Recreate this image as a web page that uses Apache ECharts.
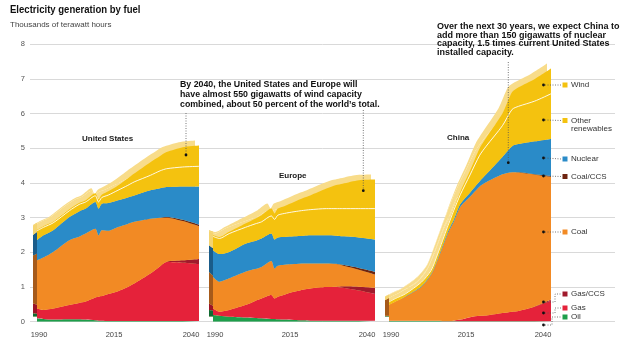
<!DOCTYPE html>
<html><head><meta charset="utf-8">
<script src="https://cdn.jsdelivr.net/npm/echarts@6/dist/echarts.min.js"></script>
<style>html,body{margin:0;padding:0;background:#fff}#c{width:635px;height:358px}</style>
</head><body><div id="c"></div>
<script>
// ---------- data ----------
const years = [1990,1992,1995,2000,2003,2005,2008,2009,2010,2012,2015,2018,2020,2025,2028,2030,2035,2040];
const fuels = ['Oil','Gas','Gas/CCS','Coal','Coal/CCS','Nuclear','Other renewables','Wind'];
const yTicks = [0,1,2,3,4,5,6,7,8];
const xTickLabels = [1990,2015,2040];

// United States
const usOil     = [0.10,0.08,0.06,0.07,0.07,0.06,0.04,0.03,0.03,0.02,0.02,0.02,0.02,0.02,0.02,0.02,0.02,0.02];
const usGas     = [0.28,0.26,0.32,0.41,0.47,0.52,0.66,0.69,0.71,0.78,0.86,0.98,1.08,1.37,1.58,1.70,1.68,1.64];
const usGasCCS  = [0,0,0,0,0,0,0,0,0,0,0,0,0,0,0,0.01,0.07,0.15];
const usCoal    = [1.39,1.51,1.63,1.87,1.91,1.96,1.98,1.77,1.90,1.82,1.85,1.82,1.78,1.58,1.39,1.27,1.13,0.94];
const usCoalCCS = [0,0,0,0,0,0,0,0,0,0,0,0,0,0,0.01,0.02,0.04,0.05];
const usNuclear = [0.58,0.64,0.63,0.67,0.73,0.72,0.77,0.77,0.76,0.80,0.77,0.76,0.76,0.82,0.85,0.86,0.96,1.10];
const usOther   = [0.27,0.23,0.21,0.18,0.20,0.19,0.18,0.19,0.18,0.23,0.29,0.35,0.39,0.43,0.50,0.53,0.56,0.58];
const usWind    = [0.02,0.03,0.03,0.04,0.04,0.05,0.07,0.08,0.08,0.11,0.14,0.20,0.24,0.38,0.43,0.48,0.57,0.60];

// Europe
const euOil     = [0.19,0.17,0.14,0.12,0.11,0.10,0.08,0.08,0.07,0.06,0.05,0.04,0.03,0.03,0.03,0.03,0.03,0.03];
const euGas     = [0.19,0.12,0.20,0.36,0.49,0.57,0.69,0.59,0.65,0.72,0.81,0.89,0.93,0.97,0.97,0.95,0.87,0.77];
const euGasCCS  = [0,0,0,0,0,0,0,0,0,0,0,0,0,0,0.01,0.04,0.11,0.18];
const euCoal    = [0.91,0.86,0.91,0.96,0.92,0.91,0.98,0.86,0.89,0.86,0.80,0.75,0.72,0.68,0.65,0.60,0.49,0.38];
const euCoalCCS = [0,0,0,0,0,0,0,0,0,0,0,0,0,0,0.01,0.02,0.05,0.08];
const euNuclear = [0.77,0.80,0.76,0.81,0.81,0.82,0.79,0.84,0.82,0.80,0.80,0.80,0.81,0.81,0.81,0.82,0.88,0.93];
const euOther   = [0.40,0.45,0.53,0.47,0.49,0.48,0.51,0.58,0.64,0.68,0.71,0.73,0.74,0.77,0.78,0.80,0.83,0.89];
const euWind    = [0.03,0.04,0.05,0.11,0.15,0.19,0.21,0.17,0.19,0.21,0.28,0.36,0.41,0.58,0.68,0.72,0.82,0.84];

// China
const cnOil     = [0.02,0.02,0.02,0.02,0.02,0.02,0.01,0.01,0.01,0.01,0.01,0.01,0.01,0.01,0.01,0.01,0.01,0.01];
const cnGas     = [0.01,0.01,0.01,0.01,0.01,0.01,0.01,0.01,0.02,0.05,0.12,0.16,0.17,0.24,0.28,0.30,0.42,0.60];
const cnGasCCS  = [0,0,0,0,0,0,0,0,0,0,0,0,0,0,0,0,0.01,0.03];
const cnCoal    = [0.45,0.55,0.69,0.97,1.32,1.74,2.48,2.68,2.85,3.25,3.47,3.73,3.84,4.00,4.02,3.99,3.80,3.54];
const cnCoalCCS = [0,0,0,0,0,0,0,0,0,0,0,0,0,0,0,0.01,0.01,0.02];
const cnNuclear = [0,0,0.01,0.02,0.03,0.04,0.05,0.06,0.06,0.08,0.12,0.15,0.23,0.50,0.75,0.81,0.95,1.07];
const cnOther   = [0.09,0.09,0.07,0.12,0.10,0.14,0.17,0.20,0.27,0.27,0.51,0.75,0.81,0.90,1.06,1.09,1.16,1.30];
const cnWind    = [0.01,0.01,0.01,0.01,0.02,0.02,0.03,0.04,0.05,0.08,0.12,0.20,0.24,0.35,0.50,0.55,0.64,0.73];

// ---------- layout / style ----------
const regions = [
  {key:'us', left:37,  layers:[usOil,usGas,usGasCCS,usCoal,usCoalCCS,usNuclear,usOther,usWind]},
  {key:'eu', left:213, layers:[euOil,euGas,euGasCCS,euCoal,euCoalCCS,euNuclear,euOther,euWind]},
  {key:'cn', left:389, layers:[cnOil,cnGas,cnGasCCS,cnCoal,cnCoalCCS,cnNuclear,cnOther,cnWind]}
];
const frontColors = ['#1e9e4b','#e5223a','#a01a2c','#f28a24','#6e2410','#2a8bc8','#f4c20f','#f4c20f'];
const sideColors  = ['#0f6a32','#9c1526','#680f1c','#a65a1a','#461606','#1a5c8a','#f5d470','#f5d470'];
const TOPFACE = '#f8dc8a';
const PW = 162, TOP = 44.2, BOT = 36.3, DX = 4, DY = 5;
const SANS = '"Liberation Sans",Arial,sans-serif';

const grid = [{left:30, right:20, top:TOP, bottom:BOT}];
const xAxis = [{type:'value', show:false, min:1990, max:2040, gridIndex:0}];
const yAxis = [{type:'value', gridIndex:0, min:0, max:8, interval:1,
  axisLine:{show:false}, axisTick:{show:false},
  axisLabel:{color:'#555', fontSize:7.5, fontFamily:SANS, margin:5},
  splitLine:{lineStyle:{color:'#d9d9d9', width:1}}}];
const series = [];

const richLbl = {fontSize:7.5, color:'#444', fontFamily:SANS};
const mk = arr => years.map((y,i)=>[arr[i], y]);   // value first so it is the stacked dimension
const addStack = (r, gi, tag, colorFn, z) => {
  r.layers.forEach((arr, fi) => {
    series.push({type:'line', name:fuels[fi]+' ('+r.key+' '+tag+')', xAxisIndex:gi, yAxisIndex:gi,
      stack:r.key+tag, dimensions:['v','year'], encode:{x:'year', y:'v'},
      data:mk(arr), symbol:'none', smooth:0.25, z:z, silent:true,
      lineStyle:{width:0}, areaStyle:{color:colorFn(fi), opacity:1}});
  });
};

regions.forEach((r) => {
  // top face: whole stack shifted up-left, pale
  grid.push({left:r.left-DX, top:TOP-DY, width:PW, bottom:BOT+DY});
  let g = grid.length-1;
  xAxis.push({type:'value', gridIndex:g, min:1990, max:2040, show:false});
  yAxis.push({type:'value', gridIndex:g, min:0, max:8, show:false});
  addStack(r, g, 'top', () => TOPFACE, 1);

  // side face: narrow strip on the left edge, darker layer colours
  grid.push({left:r.left-DX, top:TOP-DY, width:DX, bottom:BOT+DY});
  g = grid.length-1;
  xAxis.push({type:'value', gridIndex:g, min:1990, max:1990 + 50*DX/PW, show:false});
  yAxis.push({type:'value', gridIndex:g, min:0, max:8, show:false});
  addStack(r, g, 'side', fi => sideColors[fi], 1.5);

  // front face
  grid.push({left:r.left, top:TOP, width:PW, bottom:BOT});
  g = grid.length-1;
  xAxis.push({type:'value', gridIndex:g, min:1990, max:2040, interval:5,
    axisLine:{show:false}, axisTick:{show:false}, splitLine:{show:false},
    axisLabel:{margin:9, showMinLabel:true, showMaxLabel:true,
      formatter: v => v===xTickLabels[0] ? '{a|'+v+'}' : v===xTickLabels[1] ? '{b|'+v+'}' : v===xTickLabels[2] ? '{c|'+v+'}' : '',
      rich:{a:Object.assign({padding:[0,0,0,4]},richLbl), b:Object.assign({padding:[0,8,0,0]},richLbl), c:Object.assign({padding:[0,16,0,0]},richLbl)}}});
  yAxis.push({type:'value', gridIndex:g, min:0, max:8, show:false});
  r.layers.forEach((arr, fi) => {
    const isOther = fi === 6;
    series.push({type:'line', name:fuels[fi], xAxisIndex:g, yAxisIndex:g,
      stack:r.key+'f', dimensions:['v','year'], encode:{x:'year', y:'v'},
      data:mk(arr), symbol:'none', smooth:0.25, z: isOther ? 3 : 2,
      lineStyle: isOther ? {color:'#fff8e0', width:1} : {width:0},
      areaStyle:{color:frontColors[fi], opacity:1}});
  });
});

// ---------- annotations & legend (graphic) ----------
const dotLine = pts => ({type:'polyline', z:100, shape:{points:pts},
  style:{stroke:'#555', lineWidth:0.8, lineDash:[1,1.5], fill:null}});
const dot = (x,y) => ({type:'circle', z:101, shape:{cx:x, cy:y, r:1.4}, style:{fill:'#111'}});
const txt = (x,y,t,font,extra) => ({type:'text', z:102, x:x, y:y,
  style:Object.assign({text:t, font:font, fill:'#1a1a1a', verticalAlign:'middle'}, extra||{})});

const legendItems = [
  {name:'Wind', color:frontColors[7], y:85, dotY:85},
  {name:'Other\nrenewables', color:frontColors[6], y:120.5, dotY:120},
  {name:'Nuclear', color:frontColors[5], y:159, dotY:158},
  {name:'Coal/CCS', color:frontColors[4], y:176.5, dotY:176},
  {name:'Coal', color:frontColors[3], y:232, dotY:232},
  {name:'Gas/CCS', color:frontColors[2], y:294, dotY:302, bend:555},
  {name:'Gas', color:frontColors[1], y:308, dotY:313, bend:555},
  {name:'Oil', color:frontColors[0], y:317, dotY:325, bend:552}
];
const graphic = [];
legendItems.forEach(it => {
  graphic.push({type:'rect', z:102, shape:{x:562.5, y:it.y-2.5, width:5, height:5}, style:{fill:it.color}});
  if (it.name.indexOf('\n') >= 0) {
    graphic.push(txt(571, it.y-4.5, it.name, '8px '+SANS, {fill:'#333', verticalAlign:'top', lineHeight:8.6}));
  } else {
    graphic.push(txt(571, it.y, it.name, '8px '+SANS, {fill:'#333'}));
  }
  if (it.bend) {
    graphic.push(dotLine([[545,it.dotY],[it.bend,it.dotY],[it.bend,it.y],[561,it.y]]));
  } else {
    graphic.push(dotLine([[545,it.dotY],[561,it.y]]));
  }
  graphic.push(dot(543.5, it.dotY));
});

// title (condensed look)
graphic.push({type:'text', z:102, x:10, y:10, scaleX:0.83,
  style:{text:'Electricity generation by fuel', font:'bold 11.5px '+SANS, fill:'#111', verticalAlign:'middle'}});
graphic.push(txt(10, 25, 'Thousands of terawatt hours', '8px '+SANS, {fill:'#444'}));

// panel labels
graphic.push(txt(82, 139, 'United States', 'bold 8px '+SANS));
graphic.push(txt(279, 176, 'Europe', 'bold 8px '+SANS));
graphic.push(txt(447, 138, 'China', 'bold 8px '+SANS));

// annotations
graphic.push(txt(180, 80, 'By 2040, the United States and Europe will\nhave almost 550 gigawatts of wind capacity\ncombined, about 50 percent of the world\u2019s total.',
  'bold 8.8px '+SANS, {verticalAlign:'top', lineHeight:10, fill:'#111'}));
graphic.push(txt(437, 22.8, 'Over the next 30 years, we expect China to\nadd more than 150 gigawatts of nuclear\ncapacity, 1.5 times current United States\ninstalled capacity.',
  'bold 9px '+SANS, {verticalAlign:'top', lineHeight:8.4, fill:'#111'}));
graphic.push(dotLine([[186,113],[186,155]]));
graphic.push(dot(186,155));
graphic.push(dotLine([[363.3,110],[363.3,190.7]]));
graphic.push(dot(363.3,190.7));
graphic.push(dotLine([[508.3,62],[508.3,162.7]]));
graphic.push(dot(508.3,162.7));

const option = {
  animation:false,
  backgroundColor:'#fff',
  grid:grid, xAxis:xAxis, yAxis:yAxis, series:series, graphic:graphic
};
const chart = echarts.init(document.getElementById('c'));
chart.setOption(option);
</script></body></html>
